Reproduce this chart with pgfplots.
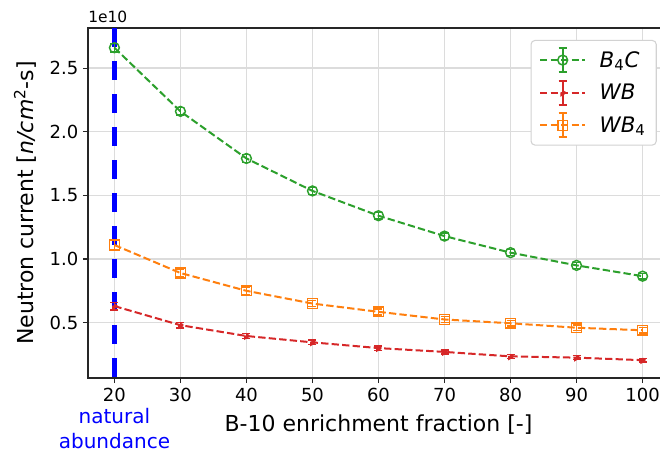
\documentclass[border=0pt]{standalone}
\usepackage{fontspec}
\setmainfont{DejaVu Sans}
\usepackage{pgfplots}
\pgfplotsset{compat=1.18}
\definecolor{tabgreen}{HTML}{2CA02C}
\definecolor{tabred}{HTML}{D62728}
\definecolor{taborange}{HTML}{FF7F0E}
\definecolor{gridgray}{HTML}{DCDCDC}

\pgfplotsset{
  errleg/.style={legend image code/.code={
    \draw[##1,solid] (17pt,-9pt) -- (17pt,9pt)
      (14pt,-9pt) -- (20pt,-9pt) (14pt,9pt) -- (20pt,9pt);
    \draw[mark repeat=2,mark phase=2,##1] plot coordinates {(0pt,0pt) (17pt,0pt) (34pt,0pt)};
  }},
  series/.style={#1, line width=1.5pt, dash pattern=on 5.5pt off 2.4pt,
    mark options={solid, line width=1.1pt, fill=white, mark size=3.7pt},
    error bars/y dir=both, error bars/y explicit,
    error bars/error bar style={solid, line width=1.1pt, #1},
    error bars/error mark options={solid, line width=1.1pt, mark size=3pt, rotate=90, #1}},
}

\begin{document}
\begin{tikzpicture}
\begin{axis}[
    name=ax,
    scale only axis,
    width=435.75pt, height=262.5pt,
    xmin=16, xmax=104,
    ymin=0.065, ymax=2.815,
    xtick={20,30,...,100},
    ytick={0.5,1.0,1.5,2.0,2.5},
    yticklabel style={/pgf/number format/.cd, fixed, fixed zerofill, precision=1},
    /pgf/number format/assume math mode=true,
    ticklabel style={font=\fontsize{13.5}{15}\selectfont},
    tick pos=left,
    tick align=outside,
    major tick length=3.75pt,
    tick style={black!85, line width=0.8pt},
    axis line style={black!85, line width=1pt},
    grid=major,
    grid style={gridgray, line width=0.9pt},
    clip=false,
    xlabel={B-10 enrichment fraction [-]},
    ylabel={Neutron current [\textit{n/cm}\textsuperscript{2}-s]},
    xlabel style={font=\fontsize{16.5}{19}\selectfont, at={(axis description cs:0.5,-0.134)}, anchor=center},
    ylabel style={font=\fontsize{16.5}{19}\selectfont, at={(axis description cs:-0.108,0.5)}, anchor=center},
    legend style={at={(rel axis cs:0.979,0.966)}, anchor=north east,
      draw=gray!35, rounded corners=3pt, line width=0.8pt,
      font=\fontsize{16}{19}\selectfont,
      inner xsep=6pt, inner ysep=5pt,
      row sep=5pt,
      /tikz/every odd column/.append style={column sep=8pt}},
    legend cell align=left,
]

\addplot[blue, line width=3.75pt, dash pattern=on 14.25pt off 10.5pt, forget plot]
  coordinates {(20,2.815) (20,0.065)};

\addplot[series=tabgreen, mark=o, errleg] coordinates {
  (20,2.660) +- (0,0.035)
  (30,2.160) +- (0,0.030)
  (40,1.790) +- (0,0.030)
  (50,1.535) +- (0,0.028)
  (60,1.340) +- (0,0.026)
  (70,1.180) +- (0,0.025)
  (80,1.050) +- (0,0.024)
  (90,0.950) +- (0,0.023)
  (100,0.865) +- (0,0.022)
};
\addlegendentry{\textit{B}\textsubscript{4}\textit{C}}

\addplot[series=tabred, mark=triangle, mark options={rotate=-90}, errleg] coordinates {
  (20,0.630) +- (0,0.030)
  (30,0.480) +- (0,0.022)
  (40,0.395) +- (0,0.020)
  (50,0.345) +- (0,0.018)
  (60,0.300) +- (0,0.017)
  (70,0.270) +- (0,0.016)
  (80,0.235) +- (0,0.015)
  (90,0.225) +- (0,0.015)
  (100,0.205) +- (0,0.014)
};
\addlegendentry{\textit{WB}}

\addplot[series=taborange, mark=square, errleg] coordinates {
  (20,1.110) +- (0,0.040)
  (30,0.890) +- (0,0.030)
  (40,0.750) +- (0,0.028)
  (50,0.650) +- (0,0.025)
  (60,0.585) +- (0,0.024)
  (70,0.525) +- (0,0.023)
  (80,0.495) +- (0,0.022)
  (90,0.460) +- (0,0.021)
  (100,0.440) +- (0,0.021)
};
\addlegendentry{\textit{WB}\textsubscript{4}}

\node[anchor=south west, inner sep=0pt, font=\fontsize{11.6}{13}\selectfont]
  at ([yshift=4pt]rel axis cs:0,1) {1e10};
\node[align=center, text=blue, font=\fontsize{15}{19}\selectfont, inner sep=0pt]
  at (axis cs:20,-0.33) {natural\\abundance};
\end{axis}
\pgfresetboundingbox
\useasboundingbox (-66pt,-57pt) rectangle (429pt,283.5pt);
\end{tikzpicture}
\end{document}
